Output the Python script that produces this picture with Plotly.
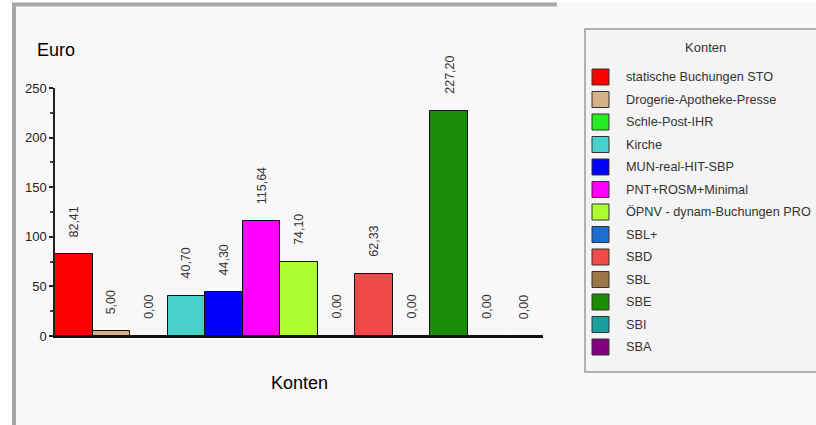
import plotly.graph_objects as go

# ---- data ----
categories = [
    "statische Buchungen STO",
    "Drogerie-Apotheke-Presse",
    "Schle-Post-IHR",
    "Kirche",
    "MUN-real-HIT-SBP",
    "PNT+ROSM+Minimal",
    "ÖPNV - dynam-Buchungen PRO",
    "SBL+",
    "SBD",
    "SBL",
    "SBE",
    "SBI",
    "SBA",
]
values = [82.41, 5.00, 0.00, 40.70, 44.30, 115.64, 74.10, 0.00, 62.33, 0.00, 227.20, 0.00, 0.00]
colors = [
    "#ff0000", "#d6b08a", "#22ee22", "#48d1cc", "#0000ff", "#ff00ff", "#adff2f",
    "#1c6fd0", "#f24a4a", "#9c7648", "#1b8c06", "#1a9ea0", "#800080",
]
y_ticks = [0, 50, 100, 150, 200, 250]
y_title = "Euro"
x_title = "Konten"
legend_title = "Konten"

# ---- geometry (pixels) ----
W, H = 816, 425
L, R, T, B = 55, 543, 88, 336  # plot area


def px(x):
    return (x - L) / (R - L)


def py(y):
    return (B - y) / (B - T)


def fmt(v):
    return f"{v:.2f}".replace(".", ",")


fig = go.Figure()
for name, val, col in zip(categories, values, colors):
    fig.add_trace(go.Bar(
        x=[name], y=[val], name=name,
        marker=dict(color=col, line=dict(color="#111111", width=1)),
        showlegend=False, hoverinfo="x+y",
    ))

annotations = []
for name, val in zip(categories, values):
    annotations.append(dict(
        x=name, y=val, xref="x", yref="y", text=fmt(val), showarrow=False,
        textangle=-90, yanchor="bottom", xanchor="center", yshift=15,
        font=dict(family="Liberation Sans, Arial", size=12.5, color="#333333"),
    ))

annotations.append(dict(
    x=px(35), y=py(50), xref="paper", yref="paper", text=y_title, showarrow=False,
    xanchor="left", yanchor="middle",
    font=dict(family="Liberation Sans, Arial", size=18, color="#000000"),
))
annotations.append(dict(
    x=px(299), y=py(383), xref="paper", yref="paper", text=x_title, showarrow=False,
    xanchor="center", yanchor="middle",
    font=dict(family="Liberation Sans, Arial", size=18, color="#000000"),
))

shapes = []
# white surround outside the panel frame
shapes.append(dict(type="rect", xref="paper", yref="paper",
                   x0=px(-5), y0=py(-5), x1=px(12), y1=py(430),
                   line=dict(width=0), fillcolor="#ffffff", layer="below"))
shapes.append(dict(type="rect", xref="paper", yref="paper",
                   x0=px(-5), y0=py(-5), x1=px(830), y1=py(2),
                   line=dict(width=0), fillcolor="#ffffff", layer="below"))
# panel frame
shapes.append(dict(type="line", xref="paper", yref="paper",
                   x0=px(12), y0=py(4.5), x1=px(557), y1=py(4.5),
                   line=dict(color="#a8a8a8", width=4)))
shapes.append(dict(type="line", xref="paper", yref="paper",
                   x0=px(14), y0=py(3), x1=px(14), y1=py(430),
                   line=dict(color="#a8a8a8", width=4)))

# legend box
shapes.append(dict(type="rect", xref="paper", yref="paper",
                   x0=px(585), y0=py(29), x1=px(830), y1=py(372),
                   line=dict(color="#9a9a9a", width=1.5), fillcolor="#f4f4f4", layer="below"))
annotations.append(dict(
    x=px(705), y=py(48), xref="paper", yref="paper", text=legend_title, showarrow=False,
    xanchor="center", yanchor="middle",
    font=dict(family="Liberation Sans, Arial", size=13, color="#333333"),
))
for i, (name, col) in enumerate(zip(categories, colors)):
    cy = 77 + i * 22.5
    shapes.append(dict(type="rect", xref="paper", yref="paper",
                       x0=px(592), y0=py(cy - 8), x1=px(609), y1=py(cy + 8),
                       line=dict(color="#333333", width=1), fillcolor=col))
    annotations.append(dict(
        x=px(624), y=py(cy), xref="paper", yref="paper", text=name, showarrow=False,
        xanchor="left", yanchor="middle",
        font=dict(family="Liberation Sans, Arial", size=12.7, color="#333333"),
    ))

fig.update_layout(
    width=W, height=H,
    margin=dict(l=L, r=W - R, t=T, b=H - B, autoexpand=False),
    paper_bgcolor="#f8f8f8", plot_bgcolor="#f8f8f8",
    barmode="overlay", bargap=0,
    showlegend=False,
    annotations=annotations, shapes=shapes,
    xaxis=dict(showticklabels=False, ticks="", showgrid=False, zeroline=False,
               showline=True, linecolor="#111111", linewidth=1.5,
               range=[-0.5, len(categories) - 0.5], fixedrange=True),
    yaxis=dict(range=[0, 250], tickvals=y_ticks, ticks="outside", ticklen=4,
               tickwidth=1.5, tickcolor="#222222",
               showline=True, linecolor="#222222", linewidth=1.5,
               showgrid=False, zeroline=False,
               minor=dict(ticks="outside", ticklen=3, tickvals=[25, 75, 125, 175, 225],
                          tickcolor="#444444"),
               tickfont=dict(family="Liberation Sans, Arial", size=13, color="#222222"),
               fixedrange=True),
)

fig.write_html(
    "out.html",
    config={"displayModeBar": False},
    post_script="document.body.style.margin='0';document.body.style.overflow='hidden';",
)
